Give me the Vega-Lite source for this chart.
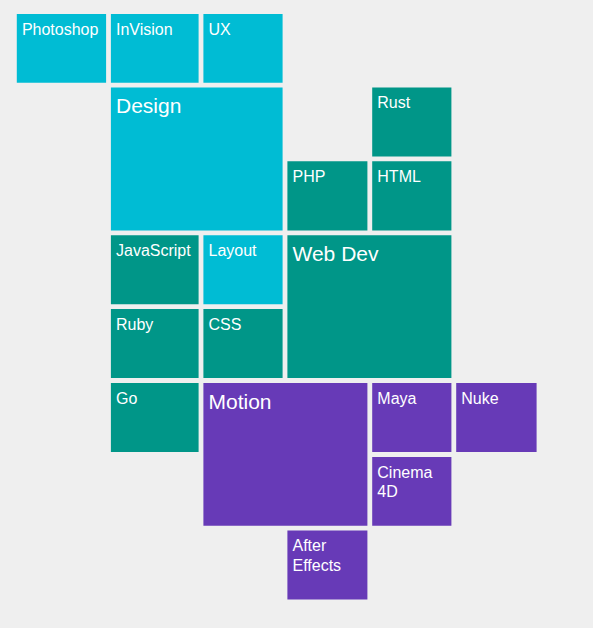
{
  "$schema": "https://vega.github.io/schema/vega-lite/v6.json",
  "width": 593,
  "height": 628,
  "autosize": "none",
  "padding": 0,
  "background": "#efefef",
  "config": {"view": {"stroke": null}},
  "data": {
    "values": [
      {"label": "Photoshop", "c0": 0, "c1": 1, "r0": 0, "r1": 1, "group": "Design", "level": "skill"},
      {"label": "InVision", "c0": 1, "c1": 2, "r0": 0, "r1": 1, "group": "Design", "level": "skill"},
      {"label": "UX", "c0": 2, "c1": 3, "r0": 0, "r1": 1, "group": "Design", "level": "skill"},
      {"label": "Design", "c0": 1, "c1": 3, "r0": 1, "r1": 3, "group": "Design", "level": "area"},
      {"label": "Rust", "c0": 4, "c1": 5, "r0": 1, "r1": 2, "group": "Web Dev", "level": "skill"},
      {"label": "PHP", "c0": 3, "c1": 4, "r0": 2, "r1": 3, "group": "Web Dev", "level": "skill"},
      {"label": "HTML", "c0": 4, "c1": 5, "r0": 2, "r1": 3, "group": "Web Dev", "level": "skill"},
      {"label": "JavaScript", "c0": 1, "c1": 2, "r0": 3, "r1": 4, "group": "Web Dev", "level": "skill"},
      {"label": "Layout", "c0": 2, "c1": 3, "r0": 3, "r1": 4, "group": "Design", "level": "skill"},
      {"label": "Web Dev", "c0": 3, "c1": 5, "r0": 3, "r1": 5, "group": "Web Dev", "level": "area"},
      {"label": "Ruby", "c0": 1, "c1": 2, "r0": 4, "r1": 5, "group": "Web Dev", "level": "skill"},
      {"label": "CSS", "c0": 2, "c1": 3, "r0": 4, "r1": 5, "group": "Web Dev", "level": "skill"},
      {"label": "Go", "c0": 1, "c1": 2, "r0": 5, "r1": 6, "group": "Web Dev", "level": "skill"},
      {"label": "Motion", "c0": 2, "c1": 4, "r0": 5, "r1": 7, "group": "Motion", "level": "area"},
      {"label": "Maya", "c0": 4, "c1": 5, "r0": 5, "r1": 6, "group": "Motion", "level": "skill"},
      {"label": "Nuke", "c0": 5, "c1": 6, "r0": 5, "r1": 6, "group": "Motion", "level": "skill"},
      {"label": "Cinema\n4D", "c0": 4, "c1": 5, "r0": 6, "r1": 7, "group": "Motion", "level": "skill"},
      {"label": "After\nEffects", "c0": 3, "c1": 4, "r0": 7, "r1": 8, "group": "Motion", "level": "skill"}
    ]
  },
  "encoding": {
    "x": {"field": "c0", "type": "quantitative", "axis": null,
      "scale": {"domain": [0, 1, 2, 3, 4, 5, 6], "range": [14.4, 108.5, 201, 285, 369.8, 453.8, 539], "nice": false, "zero": false}},
    "y": {"field": "r0", "type": "quantitative", "axis": null,
      "scale": {"domain": [0, 1, 2, 3, 4, 5, 6, 7, 8], "range": [11.6, 85.1, 158.9, 232.8, 306.7, 380.5, 454.5, 528.2, 602], "nice": false, "zero": false}}
  },
  "layer": [
    {
      "mark": {"type": "rect", "xOffset": 2.4, "x2Offset": -2.4, "yOffset": 2.4, "y2Offset": -2.4},
      "encoding": {
        "x2": {"field": "c1"},
        "y2": {"field": "r1"},
        "color": {"field": "group", "type": "nominal", "legend": null,
          "scale": {"domain": ["Design", "Web Dev", "Motion"], "range": ["#00bcd4", "#009688", "#673ab7"]}}
      }
    },
    {
      "transform": [{"filter": "datum.level === 'skill'"}],
      "mark": {"type": "text", "align": "left", "baseline": "alphabetic", "dx": 7.5, "dy": 23, "font": "Liberation Sans", "fontSize": 16, "color": "#ffffff", "lineBreak": "\n", "lineHeight": 19.5},
      "encoding": {"text": {"field": "label"}}
    },
    {
      "transform": [{"filter": "datum.level === 'area'"}],
      "mark": {"type": "text", "align": "left", "baseline": "alphabetic", "dx": 7.5, "dy": 28, "font": "Liberation Sans", "fontSize": 21, "color": "#ffffff"},
      "encoding": {"text": {"field": "label"}}
    }
  ]
}
